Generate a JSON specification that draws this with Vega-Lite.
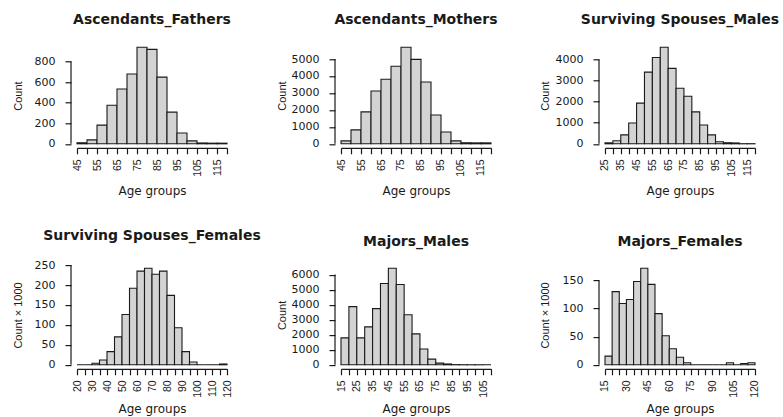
{
  "$schema": "https://vega.github.io/schema/vega-lite/v6.json",
  "autosize": {"type": "none"},
  "padding": {"left": 77, "top": 47.3, "right": 706, "bottom": 370},
  "background": "white",
  "datasets": {
    "fathers": [
      {"start": 45, "end": 50, "count": 10}, {"start": 50, "end": 55, "count": 38}, {"start": 55, "end": 60, "count": 182},
      {"start": 60, "end": 65, "count": 375}, {"start": 65, "end": 70, "count": 532}, {"start": 70, "end": 75, "count": 678},
      {"start": 75, "end": 80, "count": 938}, {"start": 80, "end": 85, "count": 918}, {"start": 85, "end": 90, "count": 648},
      {"start": 90, "end": 95, "count": 308}, {"start": 95, "end": 100, "count": 105}, {"start": 100, "end": 105, "count": 28},
      {"start": 105, "end": 110, "count": 8}, {"start": 110, "end": 115, "count": 6}, {"start": 115, "end": 120, "count": 6}
    ],
    "mothers": [
      {"start": 45, "end": 50, "count": 175}, {"start": 50, "end": 55, "count": 820}, {"start": 55, "end": 60, "count": 1880},
      {"start": 60, "end": 65, "count": 3110}, {"start": 65, "end": 70, "count": 3810}, {"start": 70, "end": 75, "count": 4575},
      {"start": 75, "end": 80, "count": 5690}, {"start": 80, "end": 85, "count": 4980}, {"start": 85, "end": 90, "count": 3640},
      {"start": 90, "end": 95, "count": 1700}, {"start": 95, "end": 100, "count": 700}, {"start": 100, "end": 105, "count": 170},
      {"start": 105, "end": 110, "count": 60}, {"start": 110, "end": 115, "count": 55}, {"start": 115, "end": 120, "count": 55}
    ],
    "spouses_males": [
      {"start": 25, "end": 30, "count": 45}, {"start": 30, "end": 35, "count": 145}, {"start": 35, "end": 40, "count": 424},
      {"start": 40, "end": 45, "count": 990}, {"start": 45, "end": 50, "count": 1930}, {"start": 50, "end": 55, "count": 3400},
      {"start": 55, "end": 60, "count": 4095}, {"start": 60, "end": 65, "count": 4580}, {"start": 65, "end": 70, "count": 3580},
      {"start": 70, "end": 75, "count": 2636}, {"start": 75, "end": 80, "count": 2260}, {"start": 80, "end": 85, "count": 1514},
      {"start": 85, "end": 90, "count": 894}, {"start": 90, "end": 95, "count": 424}, {"start": 95, "end": 100, "count": 95},
      {"start": 100, "end": 105, "count": 50}, {"start": 105, "end": 110, "count": 40}, {"start": 110, "end": 115, "count": 5},
      {"start": 115, "end": 120, "count": 5}
    ],
    "spouses_females": [
      {"start": 20, "end": 25, "count": 0}, {"start": 25, "end": 30, "count": 0}, {"start": 30, "end": 35, "count": 4},
      {"start": 35, "end": 40, "count": 12}, {"start": 40, "end": 45, "count": 33}, {"start": 45, "end": 50, "count": 70},
      {"start": 50, "end": 55, "count": 126}, {"start": 55, "end": 60, "count": 192}, {"start": 60, "end": 65, "count": 235},
      {"start": 65, "end": 70, "count": 242}, {"start": 70, "end": 75, "count": 227}, {"start": 75, "end": 80, "count": 235},
      {"start": 80, "end": 85, "count": 174}, {"start": 85, "end": 90, "count": 93}, {"start": 90, "end": 95, "count": 33},
      {"start": 95, "end": 100, "count": 7}, {"start": 100, "end": 105, "count": 0}, {"start": 105, "end": 110, "count": 0},
      {"start": 110, "end": 115, "count": 0}, {"start": 115, "end": 120, "count": 2}
    ],
    "majors_males": [
      {"start": 15, "end": 20, "count": 1790}, {"start": 20, "end": 25, "count": 3870}, {"start": 25, "end": 30, "count": 1790},
      {"start": 30, "end": 35, "count": 2525}, {"start": 35, "end": 40, "count": 3735}, {"start": 40, "end": 45, "count": 5410},
      {"start": 45, "end": 50, "count": 6420}, {"start": 50, "end": 55, "count": 5345}, {"start": 55, "end": 60, "count": 3330},
      {"start": 60, "end": 65, "count": 2060}, {"start": 65, "end": 70, "count": 1050}, {"start": 70, "end": 75, "count": 380},
      {"start": 75, "end": 80, "count": 110}, {"start": 80, "end": 85, "count": 55}, {"start": 85, "end": 90, "count": 12},
      {"start": 90, "end": 95, "count": 5}, {"start": 95, "end": 100, "count": 2}, {"start": 100, "end": 105, "count": 2},
      {"start": 105, "end": 110, "count": 0}
    ],
    "majors_females": [
      {"start": 15, "end": 20, "count": 15.5}, {"start": 20, "end": 25, "count": 130}, {"start": 25, "end": 30, "count": 109},
      {"start": 30, "end": 35, "count": 116}, {"start": 35, "end": 40, "count": 148}, {"start": 40, "end": 45, "count": 171.5},
      {"start": 45, "end": 50, "count": 143}, {"start": 50, "end": 55, "count": 91}, {"start": 55, "end": 60, "count": 51.5},
      {"start": 60, "end": 65, "count": 28.5}, {"start": 65, "end": 70, "count": 13.5}, {"start": 70, "end": 75, "count": 3.6},
      {"start": 75, "end": 80, "count": 0}, {"start": 80, "end": 85, "count": 0}, {"start": 85, "end": 90, "count": 0},
      {"start": 90, "end": 95, "count": 0}, {"start": 95, "end": 100, "count": 0}, {"start": 100, "end": 105, "count": 3.6},
      {"start": 105, "end": 110, "count": 0}, {"start": 110, "end": 115, "count": 2.2}, {"start": 115, "end": 120, "count": 3.6}
    ]
  },
  "columns": 3,
  "spacing": {"row": 120.8, "column": 114},
  "bounds": "flush",
  "concat": [
    {
      "data": {"name": "fathers"},
      "width": 150, "height": 96.5,
      "title": {"text": "Ascendants_Fathers", "offset": 19.5},
      "layer": [
        {
          "mark": {"type": "bar", "fill": "#d3d3d3", "stroke": "#1a1a1a", "strokeWidth": 1.1},
          "encoding": {
            "x": {"field": "start", "type": "quantitative", "scale": {"domain": [45, 120], "nice": false, "zero": false},
                  "axis": {"title": "Age groups", "tickCount": 1000, "format": "d", "values": [45,50,55,60,65,70,75,80,85,90,95,100,105,110,115,120], "labelExpr": "(datum.value - 45) % 10 == 0 ? datum.label : ''"}},
            "x2": {"field": "end"},
            "y": {"field": "count", "type": "quantitative", "scale": {"domain": [0, 938], "nice": false, "zero": true},
                  "axis": {"title": "Count", "tickCount": 1000, "format": "d", "values": [0, 200, 400, 600, 800]}},
            "y2": {"datum": 0}
          }
        },
        {
          "data": {"values": [{}]},
          "mark": {"type": "rule", "color": "#1a1a1a", "strokeWidth": 1.2},
          "encoding": {"x": {"datum": 42}, "y": {"datum": 0}, "y2": {"datum": 800}}
        }
      ]
    },
    {
      "data": {"name": "mothers"},
      "width": 150, "height": 96.5,
      "title": {"text": "Ascendants_Mothers", "offset": 19.5},
      "layer": [
        {
          "mark": {"type": "bar", "fill": "#d3d3d3", "stroke": "#1a1a1a", "strokeWidth": 1.1},
          "encoding": {
            "x": {"field": "start", "type": "quantitative", "scale": {"domain": [45, 120], "nice": false, "zero": false},
                  "axis": {"title": "Age groups", "tickCount": 1000, "format": "d", "values": [45,50,55,60,65,70,75,80,85,90,95,100,105,110,115,120], "labelExpr": "(datum.value - 45) % 10 == 0 ? datum.label : ''"}},
            "x2": {"field": "end"},
            "y": {"field": "count", "type": "quantitative", "scale": {"domain": [0, 5690], "nice": false, "zero": true},
                  "axis": {"title": "Count", "tickCount": 1000, "format": "d", "values": [0, 1000, 2000, 3000, 4000, 5000]}},
            "y2": {"datum": 0}
          }
        },
        {
          "data": {"values": [{}]},
          "mark": {"type": "rule", "color": "#1a1a1a", "strokeWidth": 1.2},
          "encoding": {"x": {"datum": 42}, "y": {"datum": 0}, "y2": {"datum": 5000}}
        }
      ]
    },
    {
      "data": {"name": "spouses_males"},
      "width": 150, "height": 96.5,
      "title": {"text": "Surviving Spouses_Males", "offset": 19.5},
      "layer": [
        {
          "mark": {"type": "bar", "fill": "#d3d3d3", "stroke": "#1a1a1a", "strokeWidth": 1.1},
          "encoding": {
            "x": {"field": "start", "type": "quantitative", "scale": {"domain": [25, 120], "nice": false, "zero": false},
                  "axis": {"title": "Age groups", "tickCount": 1000, "format": "d", "values": [25,30,35,40,45,50,55,60,65,70,75,80,85,90,95,100,105,110,115,120], "labelExpr": "(datum.value - 25) % 10 == 0 ? datum.label : ''"}},
            "x2": {"field": "end"},
            "y": {"field": "count", "type": "quantitative", "scale": {"domain": [0, 4580], "nice": false, "zero": true},
                  "axis": {"title": "Count", "tickCount": 1000, "format": "d", "values": [0, 1000, 2000, 3000, 4000]}},
            "y2": {"datum": 0}
          }
        },
        {
          "data": {"values": [{}]},
          "mark": {"type": "rule", "color": "#1a1a1a", "strokeWidth": 1.2},
          "encoding": {"x": {"datum": 21.2}, "y": {"datum": 0}, "y2": {"datum": 4000}}
        }
      ]
    },
    {
      "data": {"name": "spouses_females"},
      "width": 150, "height": 99.7,
      "title": {"text": "Surviving Spouses_Females", "offset": 16.3},
      "layer": [
        {
          "mark": {"type": "bar", "fill": "#d3d3d3", "stroke": "#1a1a1a", "strokeWidth": 1.1},
          "encoding": {
            "x": {"field": "start", "type": "quantitative", "scale": {"domain": [20, 120], "nice": false, "zero": false},
                  "axis": {"title": "Age groups", "titleY": 44, "tickCount": 1000, "format": "d", "values": [20,25,30,35,40,45,50,55,60,65,70,75,80,85,90,95,100,105,110,115,120], "labelExpr": "(datum.value - 20) % 10 == 0 ? datum.label : ''"}},
            "x2": {"field": "end"},
            "y": {"field": "count", "type": "quantitative", "scale": {"domain": [0, 250], "nice": false, "zero": true},
                  "axis": {"title": "Count × 1000", "tickCount": 1000, "format": "d", "values": [0, 50, 100, 150, 200, 250]}},
            "y2": {"datum": 0}
          }
        },
        {
          "data": {"values": [{}]},
          "mark": {"type": "rule", "color": "#1a1a1a", "strokeWidth": 1.2},
          "encoding": {"x": {"datum": 16}, "y": {"datum": 0}, "y2": {"datum": 250}}
        }
      ]
    },
    {
      "data": {"name": "majors_males"},
      "width": 150, "height": 99.7,
      "title": {"text": "Majors_Males", "offset": 16.3},
      "layer": [
        {
          "mark": {"type": "bar", "fill": "#d3d3d3", "stroke": "#1a1a1a", "strokeWidth": 1.1},
          "encoding": {
            "x": {"field": "start", "type": "quantitative", "scale": {"domain": [15, 110], "nice": false, "zero": false},
                  "axis": {"title": "Age groups", "titleY": 44, "tickCount": 1000, "format": "d", "values": [15,20,25,30,35,40,45,50,55,60,65,70,75,80,85,90,95,100,105,110], "labelExpr": "(datum.value - 15) % 10 == 0 ? datum.label : ''"}},
            "x2": {"field": "end"},
            "y": {"field": "count", "type": "quantitative", "scale": {"domain": [0, 6632], "nice": false, "zero": true},
                  "axis": {"title": "Count", "tickCount": 1000, "format": "d", "values": [0, 1000, 2000, 3000, 4000, 5000, 6000]}},
            "y2": {"datum": 0}
          }
        },
        {
          "data": {"values": [{}]},
          "mark": {"type": "rule", "color": "#1a1a1a", "strokeWidth": 1.2},
          "encoding": {"x": {"datum": 11.2}, "y": {"datum": 0}, "y2": {"datum": 6000}}
        }
      ]
    },
    {
      "data": {"name": "majors_females"},
      "width": 150, "height": 99.7,
      "title": {"text": "Majors_Females", "offset": 16.3},
      "layer": [
        {
          "mark": {"type": "bar", "fill": "#d3d3d3", "stroke": "#1a1a1a", "strokeWidth": 1.1},
          "encoding": {
            "x": {"field": "start", "type": "quantitative", "scale": {"domain": [15, 120], "nice": false, "zero": false},
                  "axis": {"title": "Age groups", "titleY": 44, "tickCount": 1000, "format": "d", "values": [15,20,25,30,35,40,45,50,55,60,65,70,75,80,85,90,95,100,105,110,115,120], "labelExpr": "(datum.value - 15) % 15 == 0 ? datum.label : ''"}},
            "x2": {"field": "end"},
            "y": {"field": "count", "type": "quantitative", "scale": {"domain": [0, 177.2], "nice": false, "zero": true},
                  "axis": {"title": "Count × 1000", "tickCount": 1000, "format": "d", "values": [0, 50, 100, 150]}},
            "y2": {"datum": 0}
          }
        },
        {
          "data": {"values": [{}]},
          "mark": {"type": "rule", "color": "#1a1a1a", "strokeWidth": 1.2},
          "encoding": {"x": {"datum": 10.8}, "y": {"datum": 0}, "y2": {"datum": 150}}
        }
      ]
    }
  ],
  "config": {
    "view": {"stroke": null},
    "axis": {
      "grid": false, "domainColor": "#1a1a1a", "tickColor": "#1a1a1a", "labelColor": "#1a1a1a", "titleColor": "#1a1a1a",
      "domainWidth": 1.2, "tickWidth": 1.2, "titleFontWeight": "normal", "labelOverlap": false, "labelFlush": false
    },
    "axisX": {
      "offset": 4, "tickSize": 6, "labelAngle": -90, "labelAlign": "right", "labelBaseline": "middle", "labelPadding": 5,
      "labelFont": "Liberation Sans", "labelFontSize": 10.5, "titleFont": "DejaVu Sans", "titleFontSize": 12,
      "titleY": 47, "titleBaseline": "alphabetic"
    },
    "axisY": {
      "offset": 6, "domain": false, "tickSize": 6, "labelPadding": 10, "labelAngle": 0,
      "labelFont": "DejaVu Sans", "labelFontSize": 11, "titleFont": "Liberation Sans", "titleFontSize": 11,
      "titleX": -50, "titleBaseline": "alphabetic"
    },
    "title": {
      "font": "DejaVu Sans", "fontSize": 14, "fontWeight": "bold", "frame": "group",
      "baseline": "alphabetic", "color": "#1a1a1a", "anchor": "middle"
    }
  }
}
